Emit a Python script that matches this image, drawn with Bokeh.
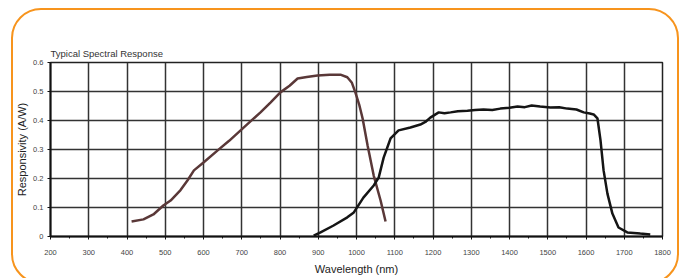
from bokeh.plotting import figure
from bokeh.models import FixedTicker, Range1d, InlineStyleSheet
from bokeh.embed import file_html
from bokeh.resources import INLINE

# Si photodiode response (brown)
si_wl = [412, 443, 469, 495, 514, 540, 558, 575, 600, 637, 667, 697, 722, 749, 775, 801, 825, 846,
         870, 898, 930, 958, 976, 988, 997, 1007, 1016, 1029, 1045, 1063, 1076]
si_resp = [0.052, 0.059, 0.076, 0.107, 0.124, 0.160, 0.193, 0.228, 0.255, 0.297, 0.330, 0.366, 0.396,
           0.428, 0.462, 0.497, 0.520, 0.545, 0.550, 0.555, 0.558, 0.558, 0.549, 0.530, 0.497, 0.455,
           0.407, 0.314, 0.210, 0.124, 0.052]

# InGaAs photodiode response (black)
ig_wl = [888, 906, 940, 976, 993, 1018, 1045, 1058, 1071, 1089, 1110, 1141, 1167, 1180, 1193, 1215,
         1230, 1246, 1265, 1290, 1310, 1332, 1355, 1376, 1400, 1421, 1440, 1458, 1480, 1507, 1530,
         1551, 1575, 1594, 1610, 1620, 1630, 1638, 1646, 1656, 1669, 1685, 1708, 1742, 1768]
ig_resp = [0.003, 0.014, 0.038, 0.066, 0.083, 0.134, 0.176, 0.203, 0.272, 0.338, 0.366, 0.376, 0.386,
           0.395, 0.410, 0.428, 0.425, 0.428, 0.432, 0.434, 0.436, 0.438, 0.436, 0.441, 0.444, 0.448,
           0.446, 0.452, 0.448, 0.445, 0.446, 0.441, 0.438, 0.428, 0.424, 0.421, 0.407, 0.331, 0.228,
           0.148, 0.079, 0.031, 0.014, 0.010, 0.007]

x_ticks = list(range(200, 1801, 100))
y_ticks = [0, 0.1, 0.2, 0.3, 0.4, 0.5, 0.6]

FONT = "Liberation Sans"

frame_css = InlineStyleSheet(css="""
:host { position: relative; }
:host::after {
  content: "";
  position: absolute;
  left: 11px; top: 8px; width: 668px; height: 276px;
  border: 2.5px solid #f7941d;
  border-radius: 30px;
  box-sizing: border-box;
  pointer-events: none;
}
""")

p = figure(width=683, height=278, output_backend="svg", toolbar_location=None,
           x_range=Range1d(200, 1800), y_range=Range1d(0, 0.6),
           min_border_left=50, min_border_right=21, min_border_top=62, min_border_bottom=42,
           title="Typical Spectral Response")
p.stylesheets.append(frame_css)

p.title.text_font = FONT
p.title.text_font_size = "9.5px"
p.title.text_font_style = "normal"
p.title.text_color = "#333333"
p.title.align = "left"
p.title.standoff = 7

p.background_fill_color = "white"
p.border_fill_color = "white"
p.outline_line_color = "#222222"
p.outline_line_width = 1.5

for ax in (p.xaxis[0], p.yaxis[0]):
    ax.axis_line_color = "#111111"
    ax.axis_line_width = 2
    ax.major_tick_line_color = "#111111"
    ax.major_tick_in = 0
    ax.major_tick_out = 3
    ax.major_label_text_font = FONT
    ax.major_label_text_font_size = "7.5px"
    ax.major_label_text_color = "#444444"
    ax.axis_label_text_font = FONT
    ax.axis_label_text_font_style = "normal"
    ax.axis_label_text_color = "#222222"

p.xaxis.ticker = FixedTicker(ticks=x_ticks, minor_ticks=list(range(250, 1800, 100)))
p.xaxis.minor_tick_line_color = "#111111"
p.xaxis.minor_tick_in = 0
p.xaxis.minor_tick_out = 2
p.xaxis.major_label_standoff = 10
p.xaxis.axis_label = "Wavelength (nm)"
p.xaxis.axis_label_text_font_size = "11px"
p.xaxis.axis_label_standoff = 5

p.yaxis.ticker = FixedTicker(ticks=y_ticks, minor_ticks=[])
p.yaxis.major_label_overrides = {0: "0"}
p.yaxis.major_label_standoff = 4
p.yaxis.axis_label = "Responsivity (A/W)"
p.yaxis.axis_label_text_font_size = "11px"
p.yaxis.axis_label_standoff = 2

p.xgrid.ticker = FixedTicker(ticks=x_ticks)
p.ygrid.ticker = FixedTicker(ticks=y_ticks)
for g in (p.xgrid[0], p.ygrid[0]):
    g.grid_line_color = "#333333"
    g.grid_line_width = 1.5
    g.grid_line_alpha = 1.0

p.line(si_wl, si_resp, line_color="#5a3838", line_width=2.5)
p.line(ig_wl, ig_resp, line_color="#151515", line_width=2.5)

open("out.html", "w").write(file_html(p, INLINE))
